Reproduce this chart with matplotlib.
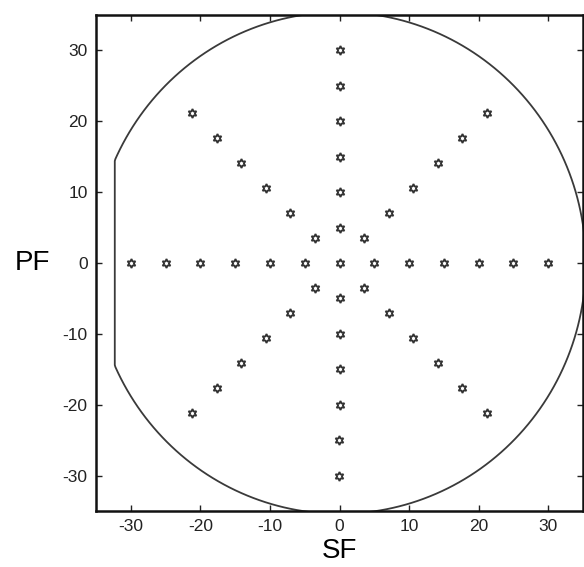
import numpy as np
import matplotlib
matplotlib.use("Agg")
import matplotlib.pyplot as plt

plt.rcParams['font.family'] = ['Liberation Sans', 'DejaVu Sans']
plt.rcParams['axes.unicode_minus'] = False

# Data
ray_angles_deg = [0, 45, 90, 135, 180, 225, 270, 315]
ray_radii = [5, 10, 15, 20, 25, 30]
boundary_radius = 35.4
boundary_chord_x = -32.3
xticks = [-30, -20, -10, 0, 10, 20, 30]
yticks = [-30, -20, -10, 0, 10, 20, 30]

fig = plt.figure(figsize=(5.84, 5.67), dpi=100)
ax = fig.add_axes([96/584, 1-511/567, (583-96)/584, (511-15)/567])

# boundary
th = np.linspace(0, 2*np.pi, 721)
bx = np.maximum(boundary_radius*np.cos(th), boundary_chord_x)
by = boundary_radius*np.sin(th)
ax.plot(bx, by, color='#3a3a3a', lw=1.3)

# points
px = [0.0]
py = [0.0]
for a in ray_angles_deg:
    for r in ray_radii:
        px.append(r*np.cos(np.deg2rad(a)))
        py.append(r*np.sin(np.deg2rad(a)))
ax.plot(px, py, linestyle='none', marker=(6, 1, 0), markersize=6.5,
        markerfacecolor='none', markeredgecolor='#333333', markeredgewidth=1.3)

ax.set_xlim(-35, 35)
ax.set_ylim(-35, 35)
ax.set_xticks(xticks)
ax.set_yticks(yticks)
ax.tick_params(direction='in', top=True, right=True, length=4, width=1,
               labelsize=12.5, colors='#222222', pad=6)
for s in ax.spines.values():
    s.set_linewidth(1.8)
    s.set_color('#111111')

ax.set_xlabel('SF', fontsize=20, labelpad=3)
ax.set_ylabel('PF', fontsize=20, rotation=0, labelpad=22, va='center')

fig.savefig('out.png', dpi=100)
